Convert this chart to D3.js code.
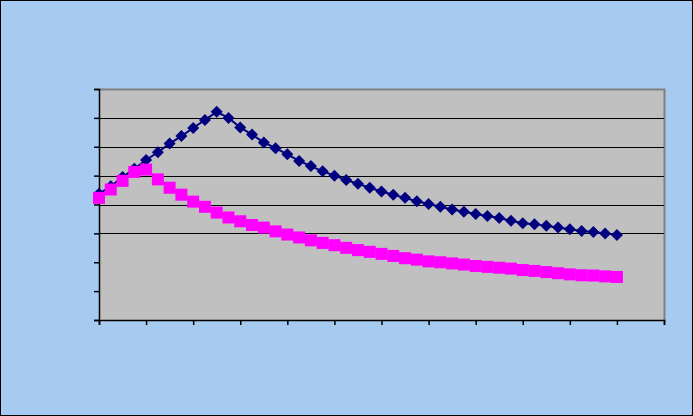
<!DOCTYPE html>
<html>
<head>
<meta charset="utf-8">
<script src="https://cdn.jsdelivr.net/npm/d3@7"></script>
<style>
  body { margin: 0; background: #A6CAF0; }
  svg { display: block; }
</style>
</head>
<body>
<svg id="chart" width="693" height="416"></svg>
<script>
// data (45 points, x = 0..44)
var seriesA = [4.37, 4.63, 4.95, 5.24, 5.54, 5.81, 6.11, 6.37, 6.65, 6.93,
  7.21, 7.00, 6.67, 6.42, 6.15, 5.95, 5.74, 5.51, 5.33, 5.15,
  5.00, 4.85, 4.72, 4.58, 4.45, 4.34, 4.23, 4.11, 4.02, 3.92,
  3.83, 3.75, 3.67, 3.60, 3.53, 3.44, 3.35, 3.32, 3.26, 3.20,
  3.14, 3.08, 3.05, 3.00, 2.94];
var seriesB = [4.23, 4.52, 4.82, 5.13, 5.21, 4.87, 4.58, 4.34, 4.10, 3.92,
  3.72, 3.55, 3.42, 3.29, 3.20, 3.07, 2.96, 2.86, 2.76, 2.67,
  2.59, 2.50, 2.42, 2.36, 2.29, 2.22, 2.14, 2.09, 2.03, 2.00,
  1.96, 1.92, 1.87, 1.84, 1.81, 1.78, 1.73, 1.70, 1.66, 1.62,
  1.58, 1.55, 1.54, 1.51, 1.49];
var yTicks = [0, 1, 2, 3, 4, 5, 6, 7, 8];
var gridTicks = [3, 4, 5, 6, 7];
var xTicks = [0, 4, 8, 12, 16, 20, 24, 28, 32, 36, 40, 44, 48];

var svg = d3.select("#chart");
var W = 693, H = 416;
var plot = {left: 99, top: 89, right: 664, bottom: 320};

svg.append("rect")
    .attr("x", 0.5).attr("y", 0.5)
    .attr("width", W - 1).attr("height", H - 1)
    .attr("fill", "#A6CAF0")
    .attr("stroke", "#000");

var x = d3.scaleLinear().domain([0, 48]).range([plot.left, plot.right]);
var y = d3.scaleLinear().domain([0, 8]).range([plot.bottom, plot.top]);

//plot area
svg.append("rect")
    .attr("x", plot.left).attr("y", plot.top)
    .attr("width", plot.right - plot.left)
    .attr("height", plot.bottom - plot.top)
    .attr("fill", "#C0C0C0");

svg.append("path")
    .attr("d", "M" + plot.left + "," + (plot.top + 0.5) + "H" + (plot.right + 0.5) + "V" + plot.bottom)
    .attr("fill", "none")
    .attr("stroke", "#808080")
    .attr("stroke-width", 2);

svg.append("g").selectAll("line")
    .data(gridTicks)
    .enter().append("line")
    .attr("x1", plot.left).attr("x2", plot.right)
    .attr("y1", function(d) { return Math.round(y(d)) + 0.5; })
    .attr("y2", function(d) { return Math.round(y(d)) + 0.5; })
    .attr("stroke", "#000")
    .attr("stroke-width", 1);

// axes, no labels
var yAxis = d3.axisLeft(y).tickValues(yTicks).tickSize(5).tickFormat("");
var xAxis = d3.axisBottom(x).tickValues(xTicks).tickSize(5).tickFormat("");

svg.append("g")
    .attr("transform", "translate(" + plot.left + ",0)")
    .call(yAxis)
    .call(function(g) {
      g.selectAll("path,line").attr("stroke", "#000").attr("stroke-width", 1.5);
    });

svg.append("g")
    .attr("transform", "translate(0," + plot.bottom + ")")
    .call(xAxis)
    .call(function(g) {
      g.selectAll("path,line").attr("stroke", "#000").attr("stroke-width", 1.5);
    });

var line = d3.line()
    .x(function(d, i) { return x(i); })
    .y(function(d) { return y(d); });

// navy diamonds
svg.append("path")
    .datum(seriesA)
    .attr("d", line)
    .attr("fill", "none")
    .attr("stroke", "#000080")
    .attr("stroke-width", 2);

svg.append("g").selectAll("path")
    .data(seriesA)
    .enter().append("path")
    .attr("d", function(d, i) {
      var cx = x(i), cy = y(d);
      return "M" + cx + "," + (cy - 6) + "L" + (cx + 6) + "," + cy +
        "L" + cx + "," + (cy + 6) + "L" + (cx - 6) + "," + cy + "Z";
    })
    .attr("fill", "#000080");

// magenta squares
svg.append("path")
    .datum(seriesB)
    .attr("d", line)
    .attr("fill", "none")
    .attr("stroke", "#FF00FF")
    .attr("stroke-width", 2);

svg.append("g").selectAll("rect")
    .data(seriesB)
    .enter().append("rect")
    .attr("x", function(d, i) { return x(i) - 6; })
    .attr("y", function(d) { return y(d) - 6; })
    .attr("width", 12)
    .attr("height", 12)
    .attr("fill", "#FF00FF");
</script>
</body>
</html>
